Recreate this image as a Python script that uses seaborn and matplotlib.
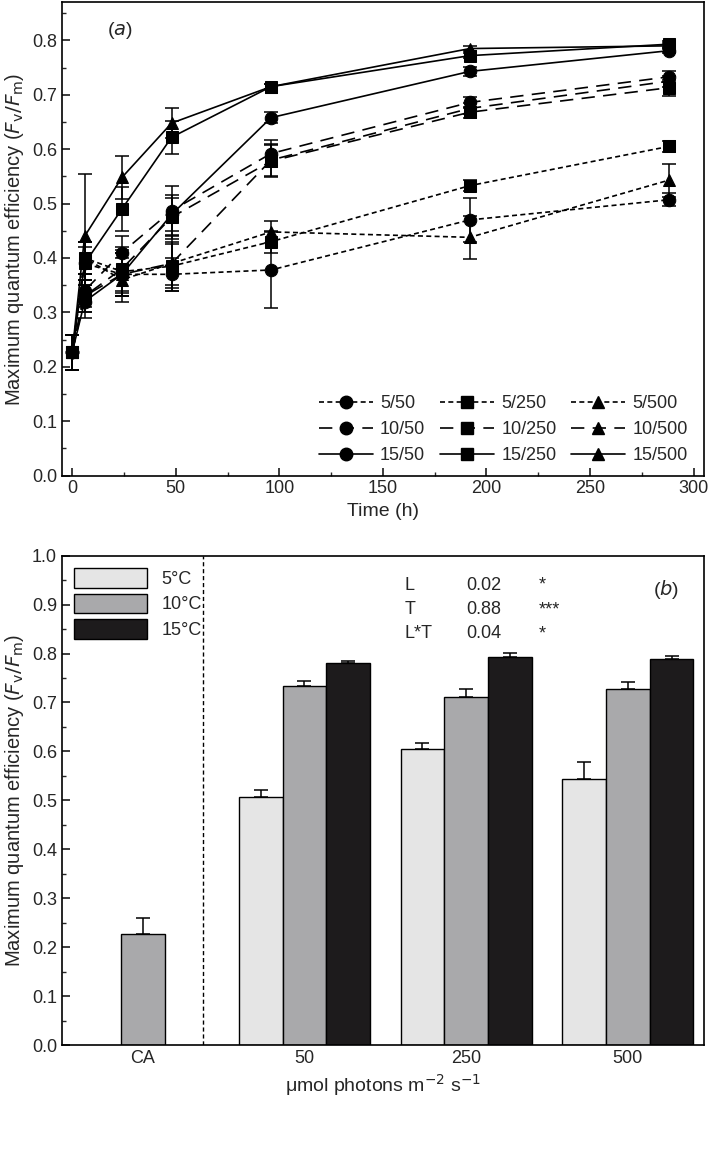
import matplotlib
matplotlib.use("Agg")
import matplotlib.pyplot as plt
import seaborn as sns
import numpy as np
import pandas as pd
from matplotlib.lines import Line2D
from matplotlib.patches import Patch

sns.set_theme(style="ticks")
plt.rcParams['font.family'] = ['Liberation Sans', 'DejaVu Sans']

time_h = [0, 6, 24, 48, 96, 192, 288]
series_labels = ["5/50", "10/50", "15/50", "5/250", "10/250", "15/250", "5/500", "10/500", "15/500"]
v_5_50 = [0.227, 0.39, 0.37, 0.37, 0.378, 0.47, 0.507]
v_10_50 = [0.227, 0.34, 0.41, 0.487, 0.592, 0.686, 0.733]
v_15_50 = [0.227, 0.32, 0.37, 0.48, 0.658, 0.743, 0.781]
v_5_250 = [0.227, 0.40, 0.375, 0.385, 0.43, 0.533, 0.605]
v_10_250 = [0.227, 0.33, 0.38, 0.475, 0.578, 0.668, 0.713]
v_15_250 = [0.227, 0.39, 0.49, 0.622, 0.715, 0.772, 0.793]
v_5_500 = [0.227, 0.40, 0.36, 0.39, 0.448, 0.438, 0.543]
v_10_500 = [0.227, 0.33, 0.37, 0.39, 0.58, 0.675, 0.725]
v_15_500 = [0.227, 0.44, 0.548, 0.648, 0.715, 0.785, 0.79]
e_5_50 = [0.032, 0.03, 0.04, 0.03, 0.07, 0.04, 0.012]
e_10_50 = [0.032, 0.03, 0.03, 0.045, 0.025, 0.01, 0.01]
e_15_50 = [0.032, 0.03, 0.04, 0.03, 0.01, 0.008, 0.005]
e_5_250 = [0.032, 0.03, 0.04, 0.04, 0.02, 0.01, 0.01]
e_10_250 = [0.032, 0.03, 0.04, 0.04, 0.03, 0.01, 0.015]
e_15_250 = [0.032, 0.04, 0.04, 0.03, 0.005, 0.005, 0.005]
e_5_500 = [0.032, 0.03, 0.04, 0.04, 0.02, 0.04, 0.03]
e_10_500 = [0.032, 0.03, 0.04, 0.05, 0.03, 0.01, 0.01]
e_15_500 = [0.032, 0.115, 0.04, 0.028, 0.005, 0.005, 0.005]

bar_groups = ["CA", "50", "250", "500"]
bar_5 = [np.nan, 0.507, 0.605, 0.543]
bar_10 = [0.227, 0.733, 0.712, 0.727]
bar_15 = [np.nan, 0.781, 0.793, 0.788]
err_5 = [np.nan, 0.015, 0.012, 0.035]
err_10 = [0.032, 0.01, 0.015, 0.015]
err_15 = [np.nan, 0.003, 0.008, 0.006]

fig = plt.figure(figsize=(7.11, 11.6), dpi=100)
ax1 = fig.add_axes([0.087, 0.59, 0.903, 0.408])
ax2 = fig.add_axes([0.087, 0.099, 0.903, 0.422])

vals = [v_5_50, v_10_50, v_15_50, v_5_250, v_10_250, v_15_250, v_5_500, v_10_500, v_15_500]
errs = [e_5_50, e_10_50, e_15_50, e_5_250, e_10_250, e_15_250, e_5_500, e_10_500, e_15_500]
markers = ['o', 'o', 'o', 's', 's', 's', '^', '^', '^']
styles = [(0, (3, 2)), (0, (8, 5)), '-'] * 3
handles = []
for lab, v, e, m, ls in zip(series_labels, vals, errs, markers, styles):
    df = pd.DataFrame({"t": time_h, "v": v})
    sns.lineplot(data=df, x="t", y="v", ax=ax1, color='black', lw=1.2, linestyle=ls,
                 marker=m, markersize=9, markeredgecolor='black', markerfacecolor='black')
    ax1.errorbar(time_h, v, yerr=e, fmt='none', ecolor='black', elinewidth=1.1, capsize=5, capthick=1.1)
    handles.append(Line2D([], [], color='black', lw=1.2, linestyle=ls, marker=m, markersize=9))
ax1.legend(handles, series_labels, ncol=3, loc='lower right', frameon=False, fontsize=13,
           handlelength=3, columnspacing=0.8, handletextpad=0.4, labelspacing=0.5,
           bbox_to_anchor=(1.0, -0.01))
ax1.set_xlim(-5, 305)
ax1.set_ylim(0, 0.87)
ax1.set_xticks(range(0, 301, 50))
ax1.set_xticks(range(0, 301, 25), minor=True)
ax1.set_yticks(np.arange(0, 0.81, 0.1))
ax1.set_yticks(np.arange(0, 0.86, 0.05), minor=True)
ax1.set_yticklabels([f"{t:.1f}" for t in np.arange(0, 0.81, 0.1)])
ax1.set_xlabel("Time (h)", fontsize=14)
ax1.set_ylabel(r"Maximum quantum efficiency ($F_\mathrm{v}/F_\mathrm{m}$)", fontsize=14.5)
ax1.text(0.07, 0.93, "($a$)", transform=ax1.transAxes, fontsize=14)

pos = np.array([0, 1, 2, 3])
w = 0.27
for off, v, e, c in [(-w, bar_5, err_5, '#e5e5e5'), (0, bar_10, err_10, '#a9a9ab'),
                     (w, bar_15, err_15, '#1d1b1c')]:
    ax2.bar(pos + off, v, width=w, color=c, edgecolor='black', linewidth=1)
    ax2.errorbar(pos + off, v, yerr=[np.zeros(4), e], fmt='none', ecolor='black', elinewidth=1.1,
                 capsize=5, capthick=1.1)
ax2.axvline(0.37, color='black', lw=1, linestyle=(0, (3, 2)))
ax2.set_xlim(-0.5, 3.47)
ax2.set_ylim(0, 1.0)
ax2.set_yticks(np.arange(0, 1.01, 0.1))
ax2.set_yticks(np.arange(0, 1.01, 0.05), minor=True)
ax2.set_yticklabels([f"{t:.1f}" for t in np.arange(0, 1.01, 0.1)])
ax2.set_xticks(pos)
ax2.set_xticklabels(bar_groups)
ax2.set_xlabel("μmol photons m$^{-2}$ s$^{-1}$", fontsize=14)
ax2.set_ylabel(r"Maximum quantum efficiency ($F_\mathrm{v}/F_\mathrm{m}$)", fontsize=14.5)
ph = [Patch(facecolor=c, edgecolor='black') for c in ['#e5e5e5', '#a9a9ab', '#1d1b1c']]
ax2.legend(ph, ["5°C", "10°C", "15°C"], loc='upper left', frameon=False, fontsize=13,
           handlelength=4, handleheight=1.3, labelspacing=0.3, borderaxespad=0.3)
stats = [("L", "0.02", "*"), ("T", "0.88", "***"), ("L*T", "0.04", "*")]
for i, (a, b, c) in enumerate(stats):
    y = 0.94 - i * 0.05
    ax2.text(1.62, y, a, fontsize=13, va='center')
    ax2.text(2.0, y, b, fontsize=13, va='center')
    ax2.text(2.45, y, c, fontsize=13, va='center')
ax2.text(0.92, 0.92, "($b$)", transform=ax2.transAxes, fontsize=14)

for ax in (ax1, ax2):
    ax.tick_params(direction='in', which='both', labelsize=13, top=False, right=False)
    ax.tick_params(which='major', length=6)
    ax.tick_params(which='minor', length=3)
    for s in ax.spines.values():
        s.set_visible(True)
        s.set_linewidth(1.2)
        s.set_color('black')

fig.savefig("out.png", dpi=100)
